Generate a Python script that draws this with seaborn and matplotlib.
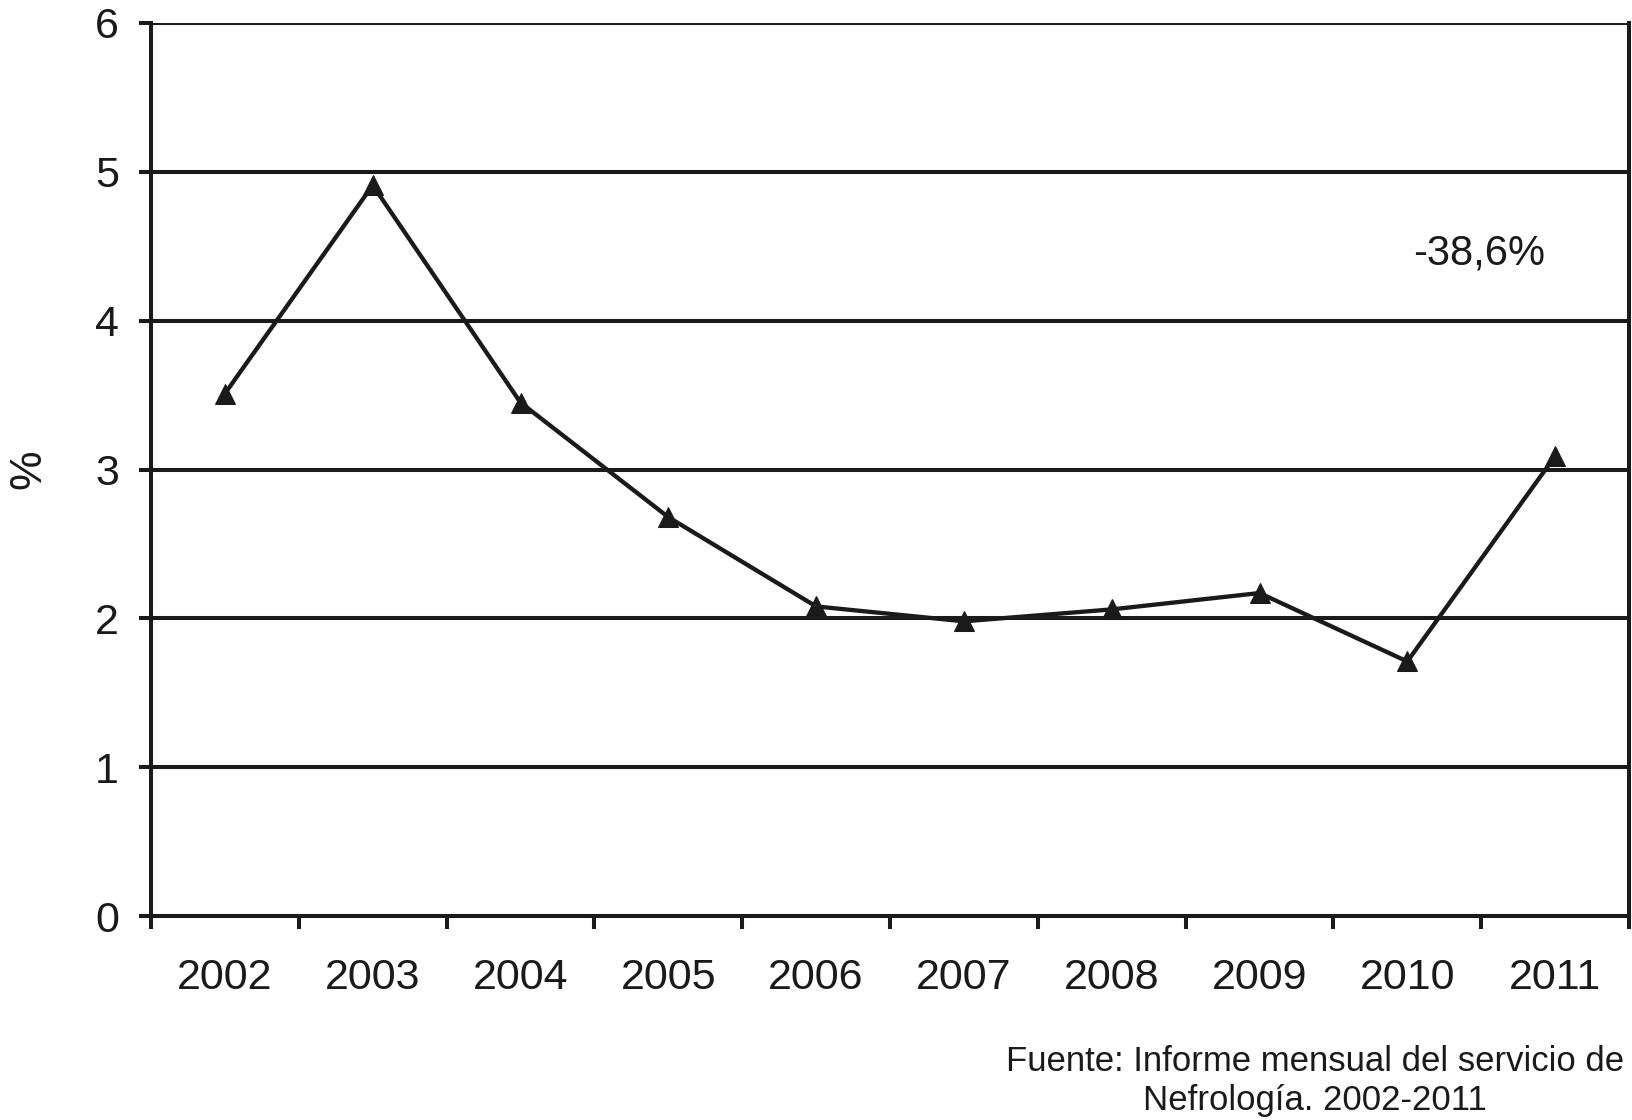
import matplotlib
matplotlib.use("Agg")
import matplotlib.pyplot as plt
import seaborn as sns
import pandas as pd
from matplotlib.ticker import FixedLocator

years = ["2002", "2003", "2004", "2005", "2006", "2007", "2008", "2009", "2010", "2011"]
values = [3.51, 4.91, 3.45, 2.68, 2.08, 1.98, 2.06, 2.17, 1.71, 3.09]
y_ticks = [0, 1, 2, 3, 4, 5, 6]
annotation = "-38,6%"
source = "Fuente: Informe mensual del servicio de\nNefrología. 2002-2011"

sns.set_theme(style="white")
plt.rcParams['font.family'] = ['Liberation Sans', 'DejaVu Sans']

df = pd.DataFrame({"year": years, "value": values})

ink = "#1a1a1a"
fig = plt.figure(figsize=(16.32, 11.2), dpi=100)
ax = fig.add_axes([151/1632, 1 - 916/1120, (1629 - 151)/1632, (916 - 23)/1120])

sns.lineplot(data=df, x="year", y="value", ax=ax, color=ink, linewidth=3.1,
             marker="^", markersize=15, markeredgecolor=ink, markerfacecolor=ink)

ax.set_xlim(-0.5, len(years) - 0.5)
ax.set_ylim(0, 6)
ax.set_yticks(y_ticks)
ax.set_yticklabels([str(t) for t in y_ticks])

# x: tick marks at category boundaries, labels at centers
ax.xaxis.set_major_locator(FixedLocator([i - 0.5 for i in range(len(years) + 1)]))
ax.xaxis.set_minor_locator(FixedLocator(list(range(len(years)))))
ax.set_xticklabels([""] * (len(years) + 1))
ax.set_xticklabels(years, minor=True)
ax.tick_params(axis="x", which="major", direction="out", length=9, width=2.9, color=ink, bottom=True)
ax.tick_params(axis="x", which="minor", length=0, pad=30, labelsize=31, labelcolor=ink, bottom=True)
ax.tick_params(axis="y", which="major", direction="out", length=9, width=2.9, color=ink,
               pad=14, labelsize=31, labelcolor=ink, left=True)

ax.grid(axis="y", color=ink, linewidth=2.9)
ax.grid(axis="x", visible=False)
ax.set_axisbelow(True)

for side in ["left", "bottom", "right"]:
    ax.spines[side].set_visible(True)
    ax.spines[side].set_color(ink)
    ax.spines[side].set_linewidth(2.9)
ax.spines["top"].set_visible(False)

ax.set_xlabel("")
ax.set_ylabel("%", fontsize=32, color=ink, labelpad=33)

ax.text(0.8985, 4.45/6, annotation, transform=ax.transAxes, ha="center", va="center",
        fontsize=30, color=ink)

fig.text(1315/1632, 1 - 1081/1120, source, ha="center", va="center", multialignment="center",
         fontsize=25, color=ink, linespacing=1.22)

fig.savefig("out.png", dpi=100, facecolor="white")
